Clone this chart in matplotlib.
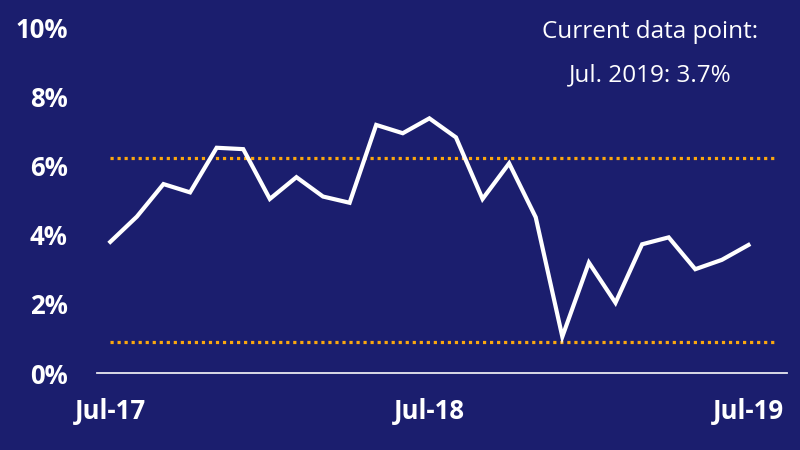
import matplotlib
matplotlib.use("Agg")
import matplotlib.pyplot as plt

# monthly values, Jul-17 .. Jul-19 (percent)
months = ["Jul-17", "Aug-17", "Sep-17", "Oct-17", "Nov-17", "Dec-17",
          "Jan-18", "Feb-18", "Mar-18", "Apr-18", "May-18", "Jun-18",
          "Jul-18", "Aug-18", "Sep-18", "Oct-18", "Nov-18", "Dec-18",
          "Jan-19", "Feb-19", "Mar-19", "Apr-19", "May-19", "Jun-19", "Jul-19"]
values = [3.79, 4.52, 5.46, 5.22, 6.51, 6.47, 5.03, 5.66, 5.10, 4.92,
          7.17, 6.93, 7.36, 6.81, 5.03, 6.06, 4.50, 1.05, 3.19, 2.03,
          3.72, 3.92, 3.00, 3.27, 3.70]
band_upper = 6.22
band_lower = 0.90
yticks = [0, 2, 4, 6, 8, 10]
xtick_labels = ["Jul-17", "Jul-18", "Jul-19"]

BG = "#1b1e6e"
ORANGE = "#fba70f"

plt.rcParams["font.family"] = ["Open Sans", "DejaVu Sans"]

fig = plt.figure(figsize=(8, 4.5), dpi=100, facecolor=BG)
ax = fig.add_axes([97 / 800, 77 / 450, 690 / 800, 346 / 450])
ax.set_facecolor(BG)

x = list(range(len(values)))
ax.plot(x, values, color="white", lw=3.0, solid_joinstyle="miter", zorder=3, clip_on=False)

for lvl in (band_upper, band_lower):
    ax.plot([-0.02, 24.95], [lvl, lvl], color=ORANGE, lw=2.3,
            linestyle=(0, (1, 1.2)), zorder=2)

ax.set_xlim(-0.5, 25.45)
ax.set_ylim(0, 10)

for s in ("top", "right", "left"):
    ax.spines[s].set_visible(False)
ax.spines["bottom"].set_color("#e8e8f0")
ax.spines["bottom"].set_linewidth(1.3)

ax.set_yticks(yticks)
ax.set_yticklabels([f"{v}%" for v in yticks])
ax.set_xticks([months.index(m) for m in xtick_labels])
ax.set_xticklabels(xtick_labels)
ax.tick_params(length=0, colors="white", labelsize=18.5)
ax.tick_params(axis="y", pad=21)
ax.tick_params(axis="x", pad=18)
for lab in ax.get_xticklabels() + ax.get_yticklabels():
    lab.set_fontweight("bold")

fig.text(650 / 800, 1 - 32 / 450, "Current data point:", color="white",
         fontsize=17.5, ha="center", va="center")
fig.text(650 / 800, 1 - 75 / 450, "Jul. 2019: 3.7%", color="white",
         fontsize=17.5, ha="center", va="center")

fig.savefig("out.png", dpi=100, facecolor=BG)
